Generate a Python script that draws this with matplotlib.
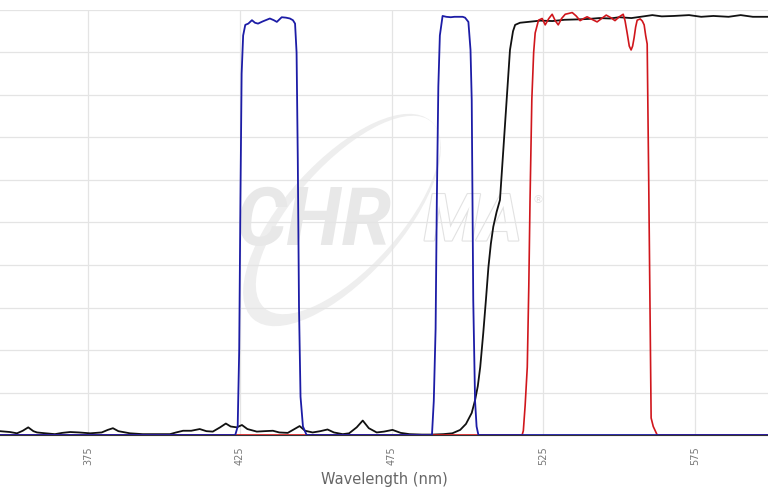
import matplotlib
matplotlib.use("Agg")
import matplotlib.pyplot as plt
import matplotlib.patheffects as pe
from matplotlib.patches import Ellipse
from matplotlib.transforms import IdentityTransform

# --- data (wavelength nm, transmission %) ---
blue_wl = [346.0, 423.5, 424.3, 424.8, 425.2, 425.6, 426.1, 426.8, 427.8, 429.0, 430.0, 431.0,
           432.5, 434.9, 436.2, 437.2, 438.8, 440.2, 441.5, 442.5, 443.2, 443.7, 444.1, 444.5,
           445.0, 445.8, 447.0,
           488.3, 488.9, 489.5, 489.9, 490.4, 490.9, 491.8, 493.0, 494.5, 495.7, 497.0, 498.4,
           499.2, 500.3, 501.0, 501.4, 501.9, 502.5, 503.0, 503.6, 599.0]
blue_t = [0, 0, 2, 20, 55, 85, 94, 96.5, 96.8, 97.6, 97.0, 96.8,
          97.3, 98.0, 97.6, 97.2, 98.3, 98.2, 98.0, 97.6, 96.8, 90, 65, 30,
          9, 2, 0,
          0, 8, 25, 55, 82, 94, 98.6, 98.4, 98.3, 98.4, 98.4, 98.4,
          98.2, 97.2, 90.6, 78.8, 31.8, 8, 2, 0, 0]

red_wl = [346.0, 518.0, 518.4, 519.0, 519.7, 520.2, 520.6, 521.2, 521.8, 522.3, 523.4, 524.6,
          525.6, 526.8, 527.9, 528.9, 529.9, 531.0, 532.2, 533.4, 534.5, 535.8, 537.1, 538.3,
          539.4, 541.0, 542.7, 544.2, 545.7, 547.2, 548.6, 550.0, 551.3, 551.9, 552.6, 553.3,
          553.9, 554.4, 554.9, 555.4, 555.9, 556.9, 557.6, 558.2, 558.7, 559.2, 559.7, 560.2,
          560.5, 561.2, 562.5, 599.0]
red_t = [0, 0, 1, 7, 16, 35, 55, 79, 90, 94.6, 97.6, 98.0,
         96.5, 98.0, 99.0, 97.5, 96.5, 98.0, 99.0, 99.2, 99.4, 98.6, 97.5, 98.0,
         98.4, 97.8, 97.2, 98.0, 98.8, 98.2, 97.5, 98.4, 99.0, 97.5, 94.6, 91.5,
         90.6, 91.5, 93.5, 96.0, 97.6, 97.9, 97.4, 96.5, 94, 92, 60, 25,
         4, 2, 0, 0]

black_wl = [346.0, 349.3, 351.6, 353.5, 355.3, 357.0, 358.2, 361.0, 364.1, 366.5, 369.1, 372.0,
            375.7, 379.5, 381.5, 383.2, 385.0, 388.8, 393.0, 398.0, 402.0, 404.0, 406.3, 409.0,
            411.8, 414.0, 416.1, 418.5, 420.4, 422.0, 424.0, 425.7, 427.5, 430.6, 433.0, 435.9,
            438.0, 440.8, 443.0, 444.7, 446.5, 449.0, 451.5, 453.9, 456.0, 458.9, 461.0, 463.5,
            465.5, 467.5, 470.1, 472.5, 475.3, 478.0, 480.9, 485.0, 488.5, 492.0, 495.0, 497.6,
            499.5, 501.4, 502.5, 503.4, 504.2, 505.2, 506.1, 506.9, 507.7, 508.5, 509.6, 510.7,
            511.8, 512.9, 514.0, 515.0, 515.7, 517.3, 520.0, 524.0, 528.0, 532.0, 536.8, 540.0,
            543.4, 547.0, 550.0, 554.0, 558.0, 560.9, 564.0, 568.0, 573.0, 577.0, 581.0, 586.0,
            590.0, 594.0, 599.0]
black_t = [0.9, 0.7, 0.4, 1.0, 1.8, 0.9, 0.6, 0.4, 0.2, 0.5, 0.7, 0.6,
           0.4, 0.6, 1.2, 1.6, 0.9, 0.4, 0.2, 0.2, 0.2, 0.6, 1.0, 1.0,
           1.4, 0.9, 0.8, 1.8, 2.7, 2.0, 1.8, 2.35, 1.4, 0.8, 0.9, 1.0,
           0.6, 0.5, 1.4, 2.1, 1.0, 0.6, 0.9, 1.3, 0.6, 0.2, 0.4, 1.8,
           3.4, 1.6, 0.6, 0.8, 1.2, 0.5, 0.2, 0.1, 0.1, 0.2, 0.4, 1.2,
           2.6, 5.2, 8.2, 11.5, 16, 24, 32, 39.5, 45, 49, 52.5, 55.3,
           67, 78.8, 90.6, 95, 96.5, 97.0, 97.2, 97.5, 97.4, 97.7, 97.8, 97.9,
           98.1, 98.0, 98.3, 98.1, 98.5, 98.8, 98.5, 98.6, 98.8, 98.4, 98.6, 98.4,
           98.8, 98.4, 98.4]

tick_vals = [375, 425, 475, 525, 575]
tick_labels = ["375", "425", "475", "525", "575"]

W, H = 768, 497
fig = plt.figure(figsize=(W / 100, H / 100), dpi=100)
ax = fig.add_axes([0, 62 / H, 1, 425 / H])

ax.plot(black_wl, black_t, color="#111111", lw=1.3, zorder=3)
ax.plot(red_wl, red_t, color="#d0161c", lw=1.2, zorder=4)
ax.plot(blue_wl, blue_t, color="#1c1ca6", lw=1.3, zorder=5)

ax.set_xlim(346, 599)
ax.set_ylim(0, 100)
ax.set_yticks(range(0, 101, 10))
ax.set_xticks(tick_vals)
ax.set_xticklabels(tick_labels, rotation=90, fontsize=7, color="#777777")
ax.tick_params(axis="x", length=0, pad=8)
ax.tick_params(axis="y", length=0, labelleft=False)
ax.grid(True, color="#e4e4e4", lw=0.9, zorder=0.5)
ax.set_axisbelow(True)
for s in ["top", "left", "right"]:
    ax.spines[s].set_visible(False)
ax.spines["bottom"].set_color("#333333")
ax.set_xlabel("Wavelength (nm)", fontsize=10.5, color="#666666",
              family=["Liberation Sans Narrow", "DejaVu Sans"], labelpad=5)

# faint watermark logo (crescent ring + lettering), kept under the grid
ring = (342, H - 220)
ax.add_patch(Ellipse(ring, 266, 116, angle=48, facecolor="#eeeeee", edgecolor="none",
                     transform=IdentityTransform(), zorder=0.1))
ax.add_patch(Ellipse((ring[0] + 6, ring[1] + 5), 250, 104, angle=48, facecolor="white",
                     edgecolor="none", transform=IdentityTransform(), zorder=0.15))
wm_font = ["Liberation Sans Narrow", "Roboto", "DejaVu Sans"]
ax.text(236 / W, 1 - 223 / H, "CHR", transform=fig.transFigure, fontsize=58,
        fontweight="bold", fontstyle="italic", color="#e8e8e8", ha="left", va="center",
        family=wm_font, zorder=0.2)
ax.text(522 / W, 1 - 223 / H, "MA", transform=fig.transFigure, fontsize=47,
        fontweight="bold", fontstyle="italic", color="white", ha="right", va="center",
        family=wm_font, zorder=0.2,
        path_effects=[pe.withStroke(linewidth=1.6, foreground="#e2e2e2")])
ax.text(538 / W, 1 - 200 / H, "®", transform=fig.transFigure, fontsize=8,
        color="#e2e2e2", ha="center", va="center", zorder=0.2)

fig.savefig("out.png", dpi=100)
